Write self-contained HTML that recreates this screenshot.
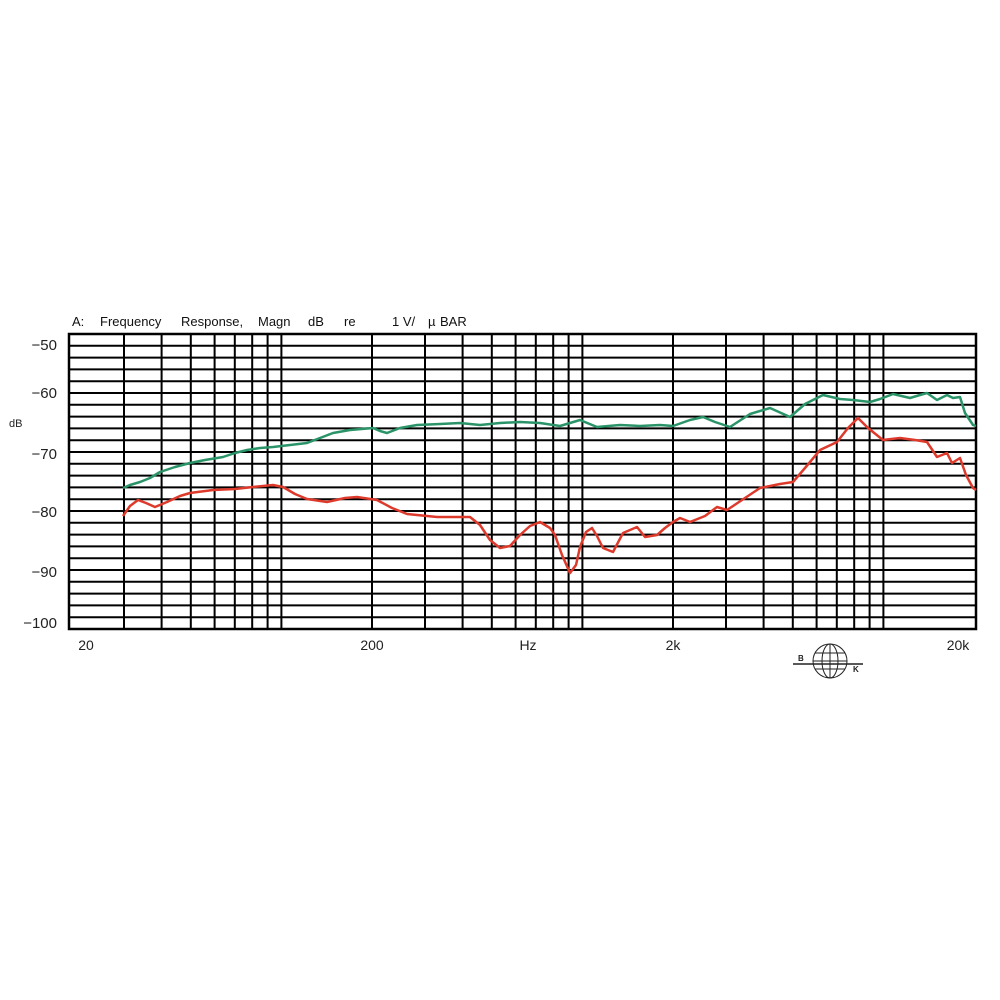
<!DOCTYPE html>
<html><head><style>body{margin:0;background:#fff}svg{display:block}</style></head><body>
<svg width="1000" height="1000" viewBox="0 0 1000 1000" xmlns="http://www.w3.org/2000/svg" font-family="Liberation Sans, sans-serif">
<rect width="1000" height="1000" fill="#fff"/>
<g font-size="13" fill="#111">
<text x="72" y="326">A:</text><text x="100" y="326">Frequency</text><text x="181" y="326">Response,</text>
<text x="258" y="326">Magn</text><text x="308" y="326">dB</text><text x="344" y="326">re</text>
<text x="392" y="326">1 V/</text><text x="428" y="326">µ</text><text x="440" y="326">BAR</text>
</g>
<path stroke="#000" stroke-width="2" fill="none" d="
M69 345.8H976M69 357.6H976M69 369.4H976M69 381.2H976M69 393H976M69 404.8H976M69 416.6H976M69 428.4H976
M69 440.2H976M69 452H976M69 463.8H976M69 475.6H976M69 487.4H976M69 499.2H976M69 511H976M69 522.8H976
M69 534.6H976M69 546.4H976M69 558.2H976M69 570H976M69 581.8H976M69 593.6H976M69 605.4H976M69 617.2H976
M124 334V629M161.6 334V629M190.8 334V629M214.6 334V629M234.8 334V629M252.2 334V629M267.6 334V629M281.4 334V629
M372 334V629M425 334V629M462.6 334V629M491.8 334V629M515.6 334V629M535.8 334V629M553.2 334V629M568.6 334V629M582.4 334V629
M673 334V629M726 334V629M763.6 334V629M792.8 334V629M816.6 334V629M836.8 334V629M854.2 334V629M869.6 334V629M883.4 334V629"/>
<rect x="69" y="334" width="907" height="295" fill="none" stroke="#000" stroke-width="2.5"/>
<g font-size="15" fill="#222" text-anchor="end">
<text x="57" y="350">−50</text><text x="57" y="398">−60</text><text x="57" y="459">−70</text>
<text x="57" y="517">−80</text><text x="57" y="577">−90</text><text x="57" y="628">−100</text>
</g>
<text x="9" y="427" font-size="11" fill="#222">dB</text>
<g font-size="14" fill="#222" text-anchor="middle">
<text x="86" y="650">20</text><text x="372" y="650">200</text><text x="528" y="650">Hz</text>
<text x="673" y="650">2k</text><text x="958" y="650">20k</text>
</g>
<g stroke="#222" fill="none" stroke-width="1">
<circle cx="830" cy="661" r="17"/>
<ellipse cx="830" cy="661" rx="8" ry="17"/>
<line x1="830" y1="644" x2="830" y2="678"/>
<line x1="813" y1="661" x2="847" y2="661"/>
<line x1="815" y1="653" x2="845" y2="653"/><line x1="815" y1="669" x2="845" y2="669"/>
<line x1="793" y1="664" x2="863" y2="664" stroke-width="1.5"/>
</g>
<text x="798" y="661" font-size="8" font-weight="bold" fill="#222">B</text>
<text x="853" y="672" font-size="8" font-weight="bold" fill="#222">K</text>
<polyline fill="none" stroke="#2a9468" stroke-width="2.5" stroke-linejoin="round" points="123,488 130,485 140,482 150,478 160,472 175,467 190,463 205,460 223,457 235,453 247,450 260,448 273,447 290,445 307,443 320,438 333,433 350,430 373,428 380,431 387,433 400,428 417,425 440,424 460,423 480,425 500,423 520,422 540,423 560,426 580,420 597,427 620,425 640,426 660,425 673,426 690,420 703,417 715,422 730,427 750,414 770,408 790,417 805,404 823,395 840,399 853,400 870,402 880,399 893,394 910,398 920,395 927,393 937,400 947,395 953,398 960,397 965,413 973,425 976,426"/>
<polyline fill="none" stroke="#de3a2c" stroke-width="2.5" stroke-linejoin="round" points="123,516 130,506 138,500 146,503 155,507 167,502 180,496 190,493 213,490 235,489 253,487 273,485 283,487 295,494 307,499 327,502 345,498 357,497 377,500 392,508 407,514 437,517 470,517 480,525 490,540 500,548 510,546 520,535 530,526 540,522 550,528 555,535 562,555 570,573 576,565 580,547 586,532 592,528 597,536 603,548 613,552 623,533 637,527 645,537 657,535 665,528 673,522 680,518 690,522 705,516 717,507 727,510 745,498 760,488 780,484 793,482 805,468 820,450 837,442 848,428 858,418 868,428 883,440 900,438 915,440 927,442 937,457 947,453 952,463 960,458 966,475 973,488 976,490"/>
</svg>
</body></html>
